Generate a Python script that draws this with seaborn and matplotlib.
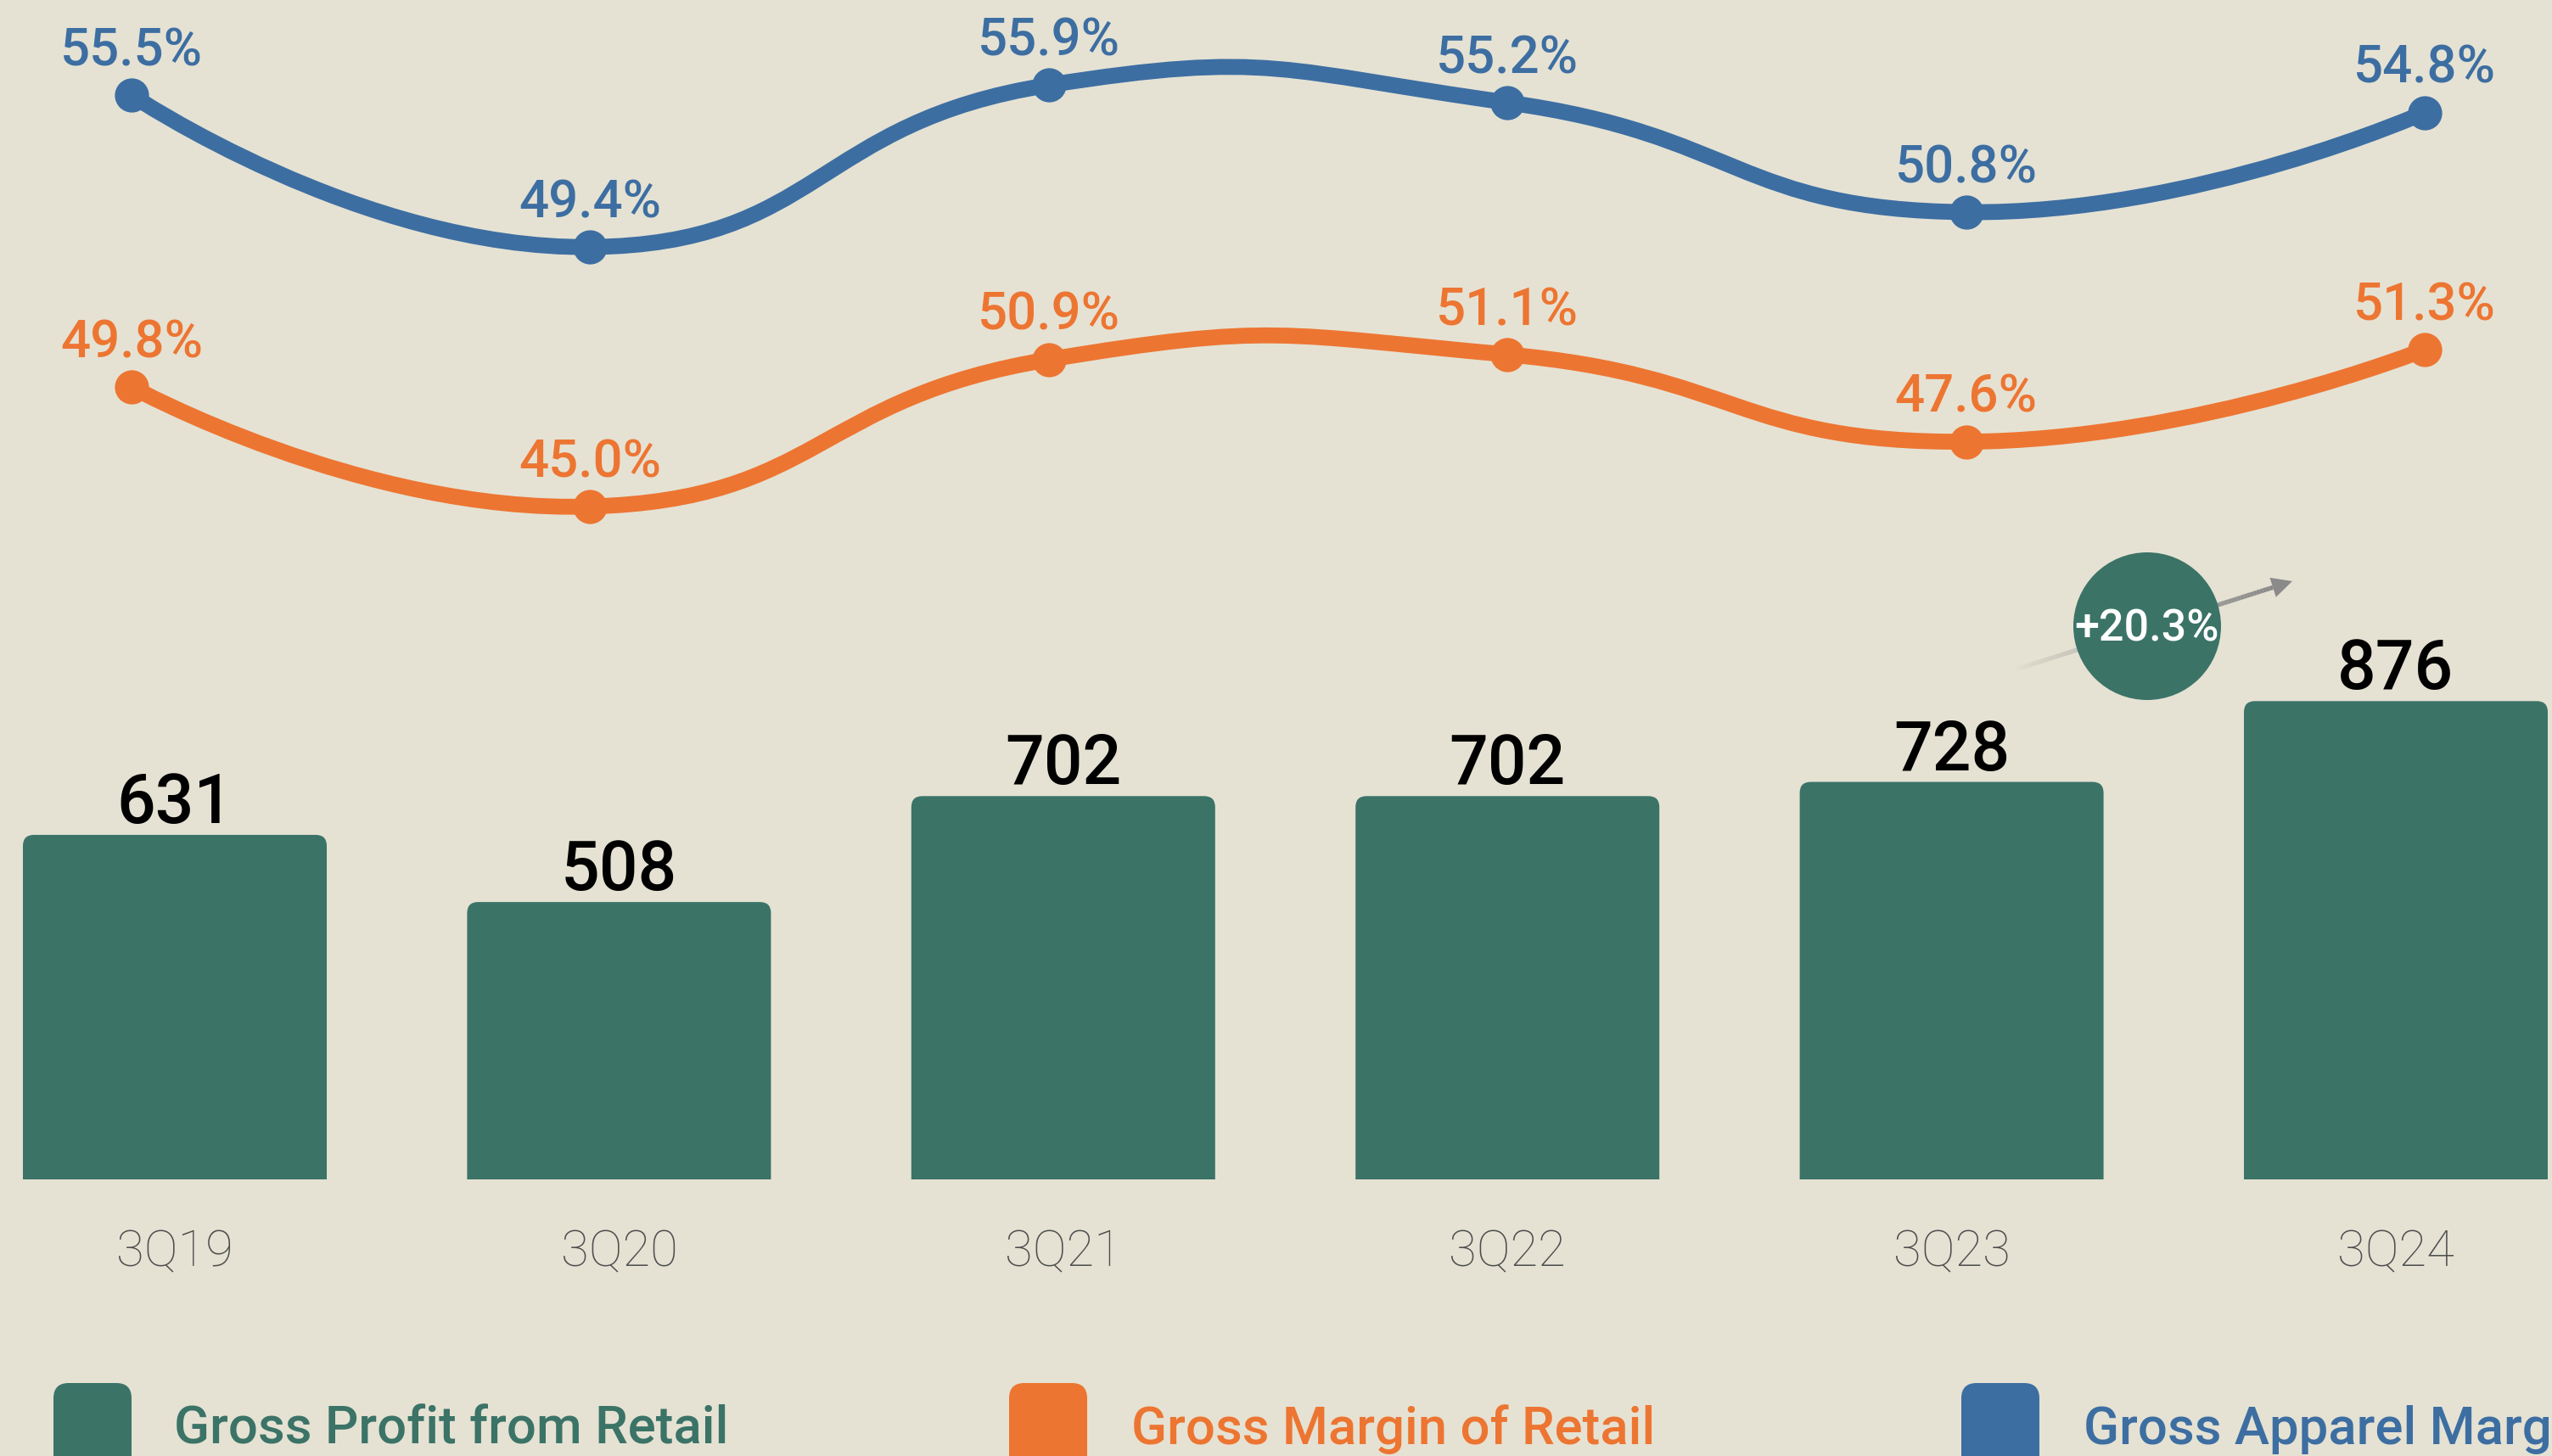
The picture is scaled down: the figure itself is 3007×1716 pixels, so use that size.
import numpy as np
import pandas as pd
import matplotlib
matplotlib.use("Agg")
import matplotlib.pyplot as plt
import seaborn as sns
from matplotlib.patches import FancyBboxPatch, Circle, PathPatch, Polygon
from matplotlib.path import Path
from matplotlib.collections import LineCollection

# ---------------- data ----------------
quarters = ["3Q19", "3Q20", "3Q21", "3Q22", "3Q23", "3Q24"]
gross_profit_retail = [631, 508, 702, 702, 728, 876]
gross_margin_retail = [49.8, 45.0, 50.9, 51.1, 47.6, 51.3]
gross_apparel_margin = [55.5, 49.4, 55.9, 55.2, 50.8, 54.8]
growth_label = "+20.3%"
legend_labels = ["Gross Profit from Retail", "Gross Margin of Retail", "Gross Apparel Margin"]

# ---------------- style ----------------
BG = "#E5E2D3"
GREEN = "#3B7367"
ORANGE = "#ED7532"
BLUE = "#3D6EA2"
TICK = "#4E4E4E"

sns.set_theme(style="white")
plt.rcParams['font.family'] = ['Roboto', 'DejaVu Sans']

W, H = 3007, 1716
fig = plt.figure(figsize=(W / 100, H / 100), dpi=100, facecolor=BG)

AX_BOTTOM_PX = 1390
rect = [0, (H - AX_BOTTOM_PX) / H, 1, AX_BOTTOM_PX / H]

# ---------------- bars ----------------
ax = fig.add_axes(rect)
ax.set_facecolor('none')
df = pd.DataFrame({"quarter": quarters, "value": gross_profit_retail})
sns.barplot(data=df, x="quarter", y="value", color=GREEN, width=0.684,
            saturation=1, ax=ax, zorder=2)
ax.set_xlim(-206 / 523.4, (W - 206) / 523.4)
ax.set_ylim(0, AX_BOTTOM_PX / 0.6435)
for s in ax.spines.values():
    s.set_visible(False)
ax.set_yticks([])
ax.set_xlabel("")
ax.set_ylabel("")

bb = ax.get_window_extent()
sx = bb.width / (ax.get_xlim()[1] - ax.get_xlim()[0])
sy = bb.height / (ax.get_ylim()[1] - ax.get_ylim()[0])
r_px = 13
rx, ry = r_px / sx, r_px / sy
for p in list(ax.patches):
    x, y, w, h = p.get_x(), p.get_y(), p.get_width(), p.get_height()
    p.remove()
    fb = FancyBboxPatch((x, y - 3 * ry), w, h + 3 * ry,
                        boxstyle=f"round,pad=0,rounding_size={rx}",
                        mutation_aspect=ry / rx, fc=GREEN, ec='none', lw=0, zorder=2)
    ax.add_patch(fb)

for i, v in enumerate(gross_profit_retail):
    ax.annotate(f"{v}", (i, v), xytext=(0, 10), textcoords='offset points',
                ha='center', va='baseline', fontsize=58, fontweight='medium',
                color='black', zorder=3)

ax.tick_params(axis='x', length=0, pad=74, labelsize=43, labelcolor=TICK)
for t in ax.get_xticklabels():
    t.set_fontweight('light')
    t.set_verticalalignment('baseline')


# ---------------- smooth lines ----------------
def smooth_path(axl, xs, ys, smooth=0.5):
    pts = axl.transData.transform(np.column_stack([xs, ys]))
    n = len(pts)
    verts = [pts[0]]
    codes = [Path.MOVETO]
    cp0 = pts[0]
    for i in range(1, n):
        p = pts[i]
        prev = pts[i - 1]
        if i + 1 < n:
            nxt = pts[i + 1]
            v = nxt - prev
            l0 = np.hypot(*(p - prev))
            l1 = np.hypot(*(nxt - p))
            ratio = l1 / (l0 + l1)
            next_cp0 = p + v * smooth * ratio
        else:
            v = np.zeros(2)
            ratio = 0.5
            next_cp0 = p
        cp1 = p - v * smooth * (1 - ratio)
        verts += [cp0, cp1, p]
        codes += [Path.CURVE4] * 3
        cp0 = next_cp0
    verts = axl.transData.inverted().transform(np.array(verts))
    return Path(verts, codes)


def line_axes(values, color, ylim):
    axl = fig.add_axes(rect)
    axl.set_facecolor('none')
    axl.set_xlim(-155 / 540.4, (W - 155) / 540.4)
    axl.set_ylim(*ylim)
    axl.axis('off')
    xs = np.arange(len(values))
    path = smooth_path(axl, xs, values)
    axl.add_patch(PathPatch(path, fill=False, ec=color, lw=13.5,
                            capstyle='round', joinstyle='round', zorder=2))
    sns.scatterplot(x=xs, y=values, color=color, s=29 ** 2, ax=axl,
                    linewidth=0, zorder=3, legend=False)
    for i, v in enumerate(values):
        axl.annotate(f"{v:.1f}%", (i, v), xytext=(0, 25), textcoords='offset points',
                     ha='center', va='baseline', fontsize=44.5, fontweight='medium',
                     color=color, zorder=4)
    return axl


k = 29.37
ylim_blue = (55.5 - (AX_BOTTOM_PX - 112) / k, 55.5 + 112 / k)
ylim_orange = (49.8 - (AX_BOTTOM_PX - 456) / k, 49.8 + 456 / k)
line_axes(gross_margin_retail, ORANGE, ylim_orange)
line_axes(gross_apparel_margin, BLUE, ylim_blue)

# ---------------- overlay: growth bubble + legend ----------------
ov = fig.add_axes([0, 0, 1, 1])
ov.set_xlim(0, W)
ov.set_ylim(H, 0)
ov.axis('off')
ov.set_facecolor('none')

start = np.array([2372.0, 790.0])
tip = np.array([2701.0, 685.0])
d = (tip - start) / np.hypot(*(tip - start))
nrm = np.array([-d[1], d[0]])
head_len, head_hw = 24, 12
shaft_end = tip - d * head_len
nseg = 80
ts = np.linspace(0, 1, nseg + 1)
ptsA = start + np.outer(ts, shaft_end - start)
segs = np.stack([ptsA[:-1], ptsA[1:]], axis=1)
cols = [(0.54, 0.54, 0.54, a) for a in np.linspace(0.0, 1.0, nseg) ** 0.8]
ov.add_collection(LineCollection(segs, colors=cols, linewidths=3.8, capstyle='butt', zorder=1))
ov.add_patch(Polygon([tip, shaft_end + nrm * head_hw, shaft_end - nrm * head_hw],
                     closed=True, fc=(0.54, 0.54, 0.54), ec='none', zorder=1))
ov.add_patch(Circle((2530, 738), 87, fc=GREEN, ec='none', zorder=2))
ov.text(2530, 755, growth_label, ha='center', va='baseline', fontsize=37.5,
        fontweight='medium', color='white', zorder=3)

leg_colors = [GREEN, ORANGE, BLUE]
sq_x = [63, 1189, 2311]
txt_x = [205, 1333, 2455]
for lab, c, xs_, xt in zip(legend_labels, leg_colors, sq_x, txt_x):
    ov.add_patch(FancyBboxPatch((xs_, 1630), 92, 200,
                                boxstyle="round,pad=0,rounding_size=18",
                                fc=c, ec='none'))
    ov.text(xt, 1702, lab, ha='left', va='baseline', fontsize=44.5,
            fontweight='medium', color=c)

fig.savefig("out.png", dpi=100, facecolor=BG)
